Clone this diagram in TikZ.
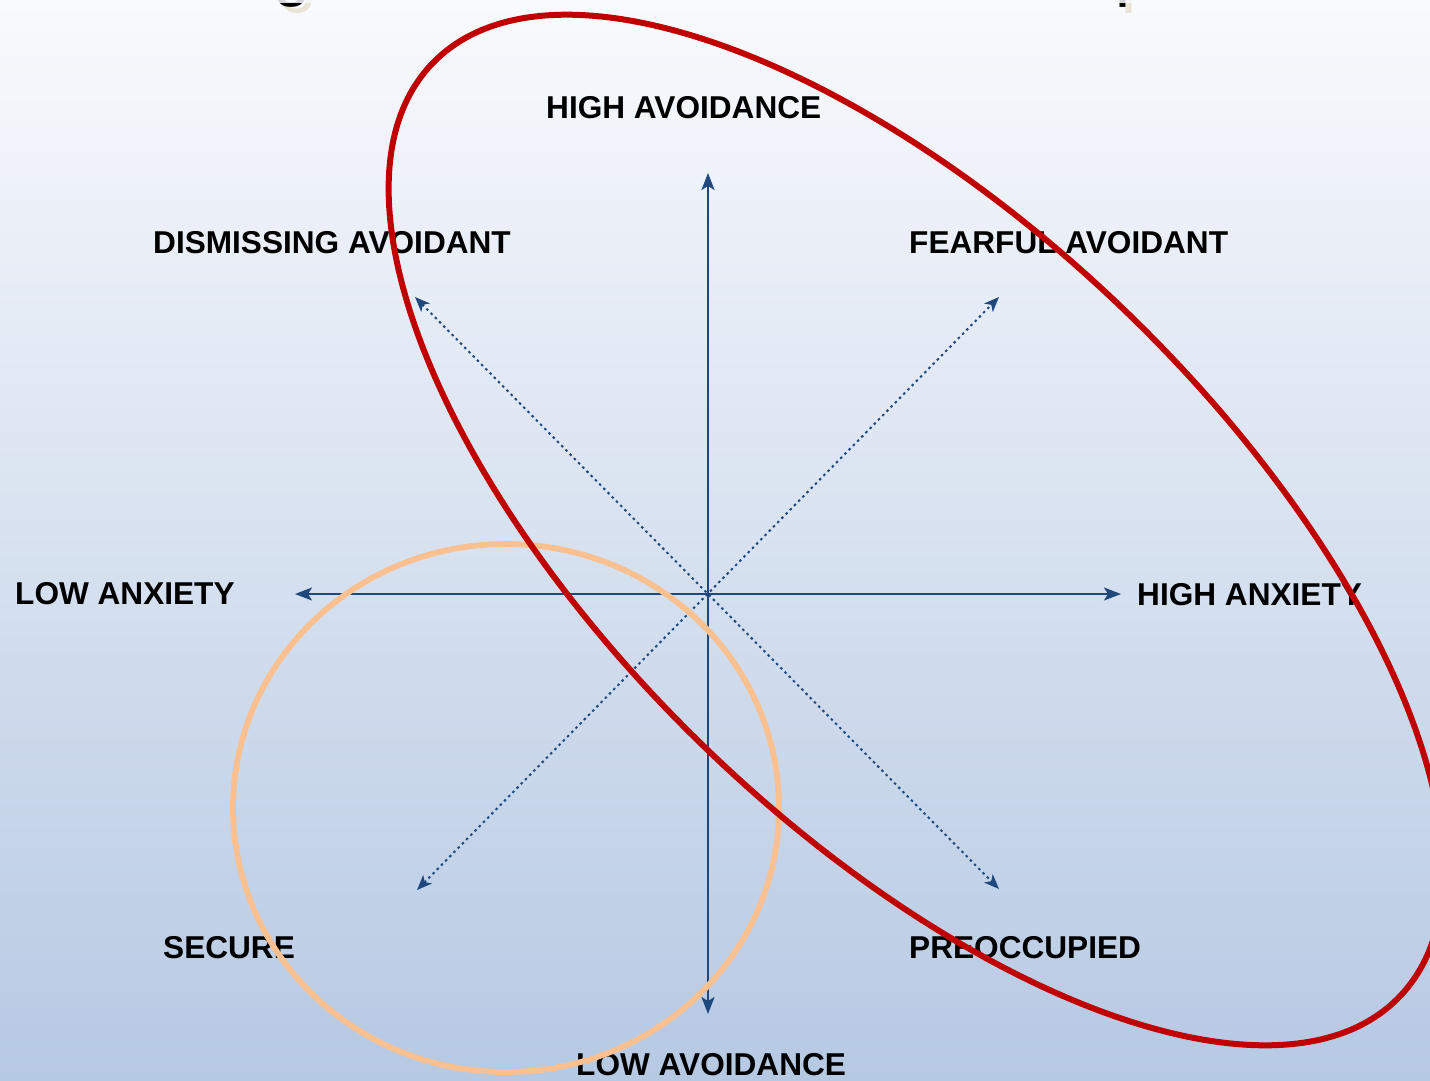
\documentclass[tikz,border=0pt]{standalone}
\usepackage{fontspec}
\setmainfont{Liberation Sans}
\usetikzlibrary{arrows.meta}
\definecolor{bgtop}{RGB}{249,250,253}
\definecolor{bgbot}{RGB}{182,201,227}
\definecolor{axisblue}{RGB}{31,73,125}
\definecolor{ringred}{RGB}{192,0,0}
\definecolor{ringorange}{RGB}{250,192,144}
\definecolor{titleshade}{RGB}{232,228,214}
\begin{document}
\begin{tikzpicture}[x=1pt,y=-1pt,
  axistip/.tip={Stealth[length=17pt,width=13pt,inset=4pt]},
  diagtip/.tip={Stealth[length=15pt,width=12pt,inset=4pt]},
  axisline/.style={draw=axisblue,line width=2.2pt,axistip-axistip},
  diagline/.style={draw=axisblue,line width=2pt,dash pattern=on 2.5pt off 3.5pt,diagtip-diagtip},
  lbl/.style={font=\fontsize{31.6}{36}\selectfont\bfseries,inner sep=0pt,anchor=west},
  heading/.style={font=\fontsize{67}{80}\selectfont,inner sep=0pt,anchor=base west}]
\useasboundingbox (0,0) rectangle (1430,1080);
\clip (0,0) rectangle (1430,1080);
% background
\fill[top color=bgtop,bottom color=bgbot] (0,0) rectangle (1430,1080);
% heading (mostly above the frame)
\node[heading,text=titleshade] (headshadow) at (194,-1) {Regions in a two-dimensional space};
\node[heading,text=black] (head) at (188,-7) {Regions in a two-dimensional space};
\fill[bgtop,opacity=0.85] (0,0) rectangle (1430,3);
% axis end points
\coordinate (avhi) at (708,173);
\coordinate (avlo) at (708,1014);
\coordinate (anlo) at (295,594);
\coordinate (anhi) at (1121,594);
\coordinate (dism) at (415,297);
\coordinate (pre) at (999,889);
\coordinate (fear) at (999,297);
\coordinate (sec) at (417,890);
% axes
\draw[axisline] (avlo) -- (avhi);
\draw[axisline] (anlo) -- (anhi);
\draw[diagline] (dism) -- (pre);
\draw[diagline] (sec) -- (fear);
% labels
\node[lbl] (lhav) at (546,108) {HIGH AVOIDANCE};
\node[lbl] (ldis) at (153,243) {DISMISSING AVOIDANT};
\node[lbl] (lfea) at (909,243) {FEARFUL AVOIDANT};
\node[lbl] (llan) at (15,594) {LOW ANXIETY};
\node[lbl] (lhan) at (1137,595) {HIGH ANXIETY};
\node[lbl] (lsec) at (163,948) {SECURE};
\node[lbl] (lpre) at (909,948) {PREOCCUPIED};
\node[lbl] (llav) at (576,1065) {LOW AVOIDANCE};
% regions
\draw[ringorange,line width=5.8pt] (506,808) ellipse [x radius=273pt,y radius=264pt];
\draw[ringred,line width=6pt,rotate around={-44:(916,530)}] (916,530) ellipse [x radius=672pt,y radius=303pt];
\end{tikzpicture}
\end{document}
